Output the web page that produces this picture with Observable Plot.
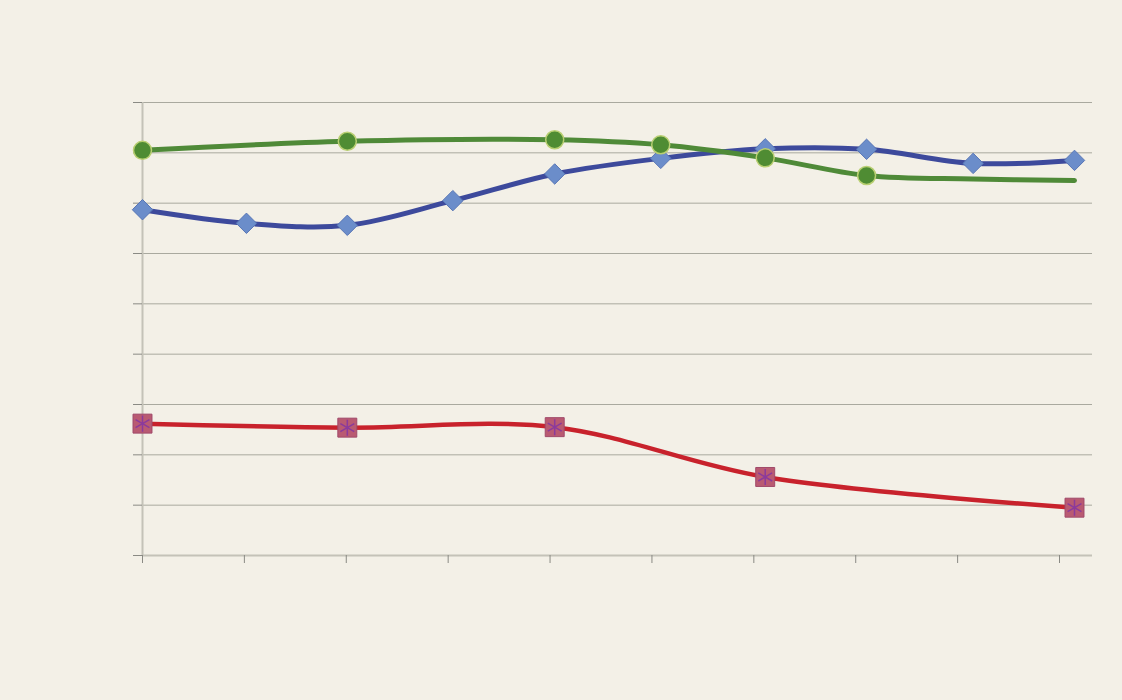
<!DOCTYPE html>
<html>
<head>
<meta charset="utf-8">
<script src="https://cdn.jsdelivr.net/npm/d3@7"></script>
<script src="https://cdn.jsdelivr.net/npm/@observablehq/plot@0.6"></script>
<style>
  html, body { margin: 0; padding: 0; background: #f3f0e7; }
  #chart svg { display: block; }
</style>
</head>
<body>
<div id="chart"></div>
<script>
// Category positions and the axis tick marks
const pointX = [0, 1.005, 1.98, 3.0, 3.985, 5.01, 6.02, 7.0, 8.03, 9.01];
const xTicks = [0, 0.985, 1.97, 2.955, 3.94, 4.925, 5.91, 6.895, 7.88, 8.865];
const yTicks = [0, 1, 2, 3, 4, 5, 6, 7, 8, 9];

// Blue series (diamonds), one value per category
const blueValues = [6.87, 6.60, 6.56, 7.05, 7.58, 7.89, 8.08, 8.07, 7.79, 7.85];

// Green series (circles): category indices, values, marker shown or not
const greenIdx = [0, 2, 4, 5, 6, 7, 8, 9];
const greenValues = [8.05, 8.23, 8.26, 8.16, 7.90, 7.55, 7.48, 7.45];
const greenMarked = [true, true, true, true, true, true, false, false];

// Red series (squares with asterisk): category indices and values
const redIdx = [0, 2, 4, 6, 9];
const redValues = [2.62, 2.54, 2.55, 1.56, 0.95];

const blue = pointX.map((x, i) => ({x, y: blueValues[i]}));
const green = greenIdx.map((k, i) => ({x: pointX[k], y: greenValues[i], m: greenMarked[i]}));
const red = redIdx.map((k, i) => ({x: pointX[k], y: redValues[i]}));

const chart = Plot.plot({
  width: 1122,
  height: 700,
  marginLeft: 142,
  marginRight: 30,
  marginTop: 102,
  marginBottom: 145,
  style: {background: "#f3f0e7"},
  x: {domain: [0, 9.184]},
  y: {domain: [0, 9]},
  marks: [
    Plot.ruleY(yTicks.filter(d => d > 0), {stroke: "#a9a99f", strokeWidth: 1}),
    Plot.ruleX([0], {stroke: "#c4c2b8", strokeWidth: 2}),
    Plot.ruleY([0], {stroke: "#c4c2b8", strokeWidth: 2}),
    Plot.axisY({ticks: yTicks, tickSize: 9, tickFormat: () => "", label: null, stroke: "#8a8a84"}),
    Plot.axisX({ticks: xTicks, tickSize: 8, tickFormat: () => "", label: null, stroke: "#8a8a84"}),
    // blue
    Plot.line(blue, {x: "x", y: "y", curve: "catmull-rom", stroke: "#3d4a9c", strokeWidth: 5}),
    Plot.dot(blue, {x: "x", y: "y", symbol: "diamond2", r: 9.2, fill: "#6b8dca", stroke: "#5876b6", strokeWidth: 1}),
    // green
    Plot.line(green, {x: "x", y: "y", curve: "catmull-rom", stroke: "#4f8a38", strokeWidth: 5}),
    Plot.dot(green.filter(d => d.m), {x: "x", y: "y", r: 9, fill: "#4f8c33", stroke: "#b9cf72", strokeWidth: 1.5}),
    // red
    Plot.line(red, {x: "x", y: "y", curve: "catmull-rom", stroke: "#c8222c", strokeWidth: 4.5}),
    Plot.dot(red, {x: "x", y: "y", symbol: "square", r: 10.7, fill: "#b95a72", stroke: "#a04a6a", strokeWidth: 1}),
    Plot.dot(red, {x: "x", y: "y", symbol: "asterisk", r: 7.6, stroke: "#8b3a9c", strokeWidth: 1.5})
  ]
});
document.getElementById("chart").appendChild(chart);
</script>
</body>
</html>
